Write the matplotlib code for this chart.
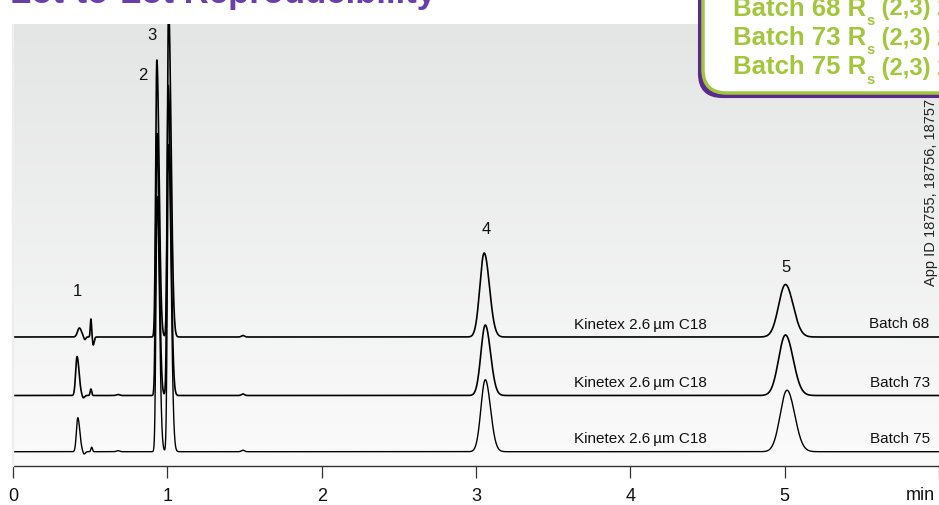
import numpy as np
import matplotlib.pyplot as plt
from matplotlib.patches import FancyBboxPatch
from matplotlib.colors import LinearSegmentedColormap

plt.rcParams['font.family'] = ['Liberation Sans', 'DejaVu Sans']

# ---- chromatogram data -------------------------------------------------
batches = ['Batch 68', 'Batch 73', 'Batch 75']
column_name = 'Kinetex 2.6\u2009µm C18'
trace_offsets = [129, 70.5, 14.3]

# peak tables: retention time (min), height, left / right width (min)
rt_68 = [0.43, 0.465, 0.505, 0.52, 0.932, 1.008, 1.49, 3.053, 5.005]
h_68 = [9, -3, 18, -8, 277, 330, 1.5, 84, 52.5]
sl_68 = [0.012, 0.006, 0.004, 0.004, 0.0075, 0.0075, 0.01, 0.028, 0.044]
sr_68 = [0.014, 0.006, 0.004, 0.006, 0.0145, 0.016, 0.01, 0.034, 0.050]

rt_73 = [0.415, 0.455, 0.505, 0.68, 0.932, 1.006, 1.49, 3.06, 5.005]
h_73 = [39, -2.5, 6.5, 1, 262, 310, 1.5, 70.5, 60.5]
sl_73 = [0.009, 0.006, 0.005, 0.01, 0.0075, 0.0075, 0.01, 0.028, 0.044]
sr_73 = [0.013, 0.008, 0.005, 0.01, 0.0145, 0.016, 0.01, 0.034, 0.050]

rt_75 = [0.42, 0.46, 0.51, 0.68, 0.934, 1.008, 1.49, 3.06, 5.015]
h_75 = [34, -2.5, 4.5, 1, 255, 307, 1.5, 72, 61.5]
sl_75 = [0.009, 0.006, 0.005, 0.01, 0.0075, 0.0075, 0.01, 0.028, 0.044]
sr_75 = [0.013, 0.008, 0.005, 0.01, 0.0145, 0.016, 0.01, 0.034, 0.050]

peak_tables = [(rt_68, h_68, sl_68, sr_68),
               (rt_73, h_73, sl_73, sr_73),
               (rt_75, h_75, sl_75, sr_75)]

# numbered peaks: retention time and label height (signal units)
peak_numbers = ['1', '2', '3', '4', '5']
peak_label_t = [0.42, 0.84, 0.90, 3.068, 5.01]
peak_label_y = [174, 390, 431, 237, 199]

x_ticks = [0, 1, 2, 3, 4, 5, 6]
x_tick_labels = ['0', '1', '2', '3', '4', '5', '']

title = 'Lot-to-Lot Reproducibility'
resolution_pair = '(2,3) 2'

GREEN = '#a2c63c'
PURPLE = '#5a2a8c'

t = np.linspace(0, 6.0, 6000)


def trace(rts, hs, sls, srs):
    y = np.zeros_like(t)
    for r, h, sl, sr in zip(rts, hs, sls, srs):
        s = np.where(t < r, sl, sr)
        y += h * np.exp(-0.5 * ((t - r) / s) ** 2)
    return y


W, H = 939, 505
fig = plt.figure(figsize=(W / 100, H / 100), dpi=100)
ax = fig.add_axes([13 / W, 39 / H, (W - 13) / W, 442 / H])
ax.set_xlim(0, 6.0)
ax.set_ylim(0, 442)

# soft grey gradient behind the traces, darker at the top
grad = np.linspace(0, 1, 256).reshape(-1, 1)
cmap = LinearSegmentedColormap.from_list('bg', ['#e4e5e5', '#fbfbfb'])
ax.imshow(grad, cmap=cmap, aspect='auto', extent=[0, 6.0, 0, 442],
          zorder=0, origin='upper')
fig.patches.append(plt.Rectangle((12 / W, 39 / H), 1 / W, 442 / H,
                                 transform=fig.transFigure,
                                 color='#eeeeee', zorder=0))

for (rts, hs, sls, srs), off, name, lw in zip(peak_tables, trace_offsets,
                                              batches, [1.2, 1.2, 1.0]):
    ax.plot(t, trace(rts, hs, sls, srs) + off, color='black', lw=lw,
            zorder=3, solid_joinstyle='round')
    ax.text(3.633, off + 12.5, column_name, fontsize=11, ha='left',
            va='center', color='#111111', zorder=4)
    ax.text(5.94, off + 12.5, name, fontsize=11, ha='right', va='center',
            color='#111111', zorder=4)

for lab, lt, ly in zip(peak_numbers, peak_label_t, peak_label_y):
    ax.text(lt, ly, lab, fontsize=12, ha='center', va='center',
            color='#111111', zorder=4)

for side in ['left', 'right', 'top']:
    ax.spines[side].set_visible(False)
ax.spines['bottom'].set_color('#333333')
ax.spines['bottom'].set_linewidth(1.0)
ax.set_yticks([])
ax.set_xticks(x_ticks)
ax.set_xticklabels(x_tick_labels)
ax.tick_params(axis='x', direction='out', length=8.5, width=0.9,
               color='#333333', labelsize=13, pad=7, labelcolor='#111111')
ax.text(5.88, -29, 'min', fontsize=13, ha='center', va='center',
        color='#111111', clip_on=False)

# heading running off the top edge
fig.text(10 / W, 1 - 3 / H, title, fontsize=25, fontweight='bold',
         color='#6a3fa8', ha='left', va='baseline')

# results box in the upper right corner
def px(x, y):
    return x / W, 1 - y / H

bx0, by0 = px(703, 93)
shadow = FancyBboxPatch((bx0 - 4 / W, by0 - 4 / H), 300 / W, 160 / H,
                        boxstyle='round,pad=0,rounding_size=0.025',
                        transform=fig.transFigure, facecolor=PURPLE,
                        edgecolor=PURPLE, lw=1.5, zorder=5,
                        mutation_aspect=W / H)
box = FancyBboxPatch((bx0, by0), 300 / W, 160 / H,
                     boxstyle='round,pad=0,rounding_size=0.025',
                     transform=fig.transFigure, facecolor='white',
                     edgecolor=GREEN, lw=2.5, zorder=6,
                     mutation_aspect=W / H)
fig.patches.extend([shadow, box])

box_style = dict(fontweight='bold', color=GREEN, zorder=7,
                 annotation_clip=False)
for i, name in enumerate(batches):
    head = fig.text(733 / W, 1 - (15.5 + 29.5 * i) / H, name + ' R',
                    fontsize=18.5, fontweight='bold', color=GREEN,
                    ha='left', va='baseline', zorder=7)
    sub = fig.add_artist(plt.Annotation(
        's', xy=(1, 0), xycoords=head, xytext=(0.3, -3.2),
        textcoords='offset points', fontsize=10.5, ha='left', va='baseline',
        **box_style))
    fig.add_artist(plt.Annotation(
        ' ' + resolution_pair, xy=(1, 0), xycoords=(sub, head),
        xytext=(0, 0), textcoords='offset points', fontsize=17,
        ha='left', va='bottom', **box_style))

fig.text(931 / W, 1 - 192 / H, 'App ID 18755, 18756, 18757', fontsize=10.5,
         rotation=90, ha='center', va='center', color='#222222', zorder=4)

fig.savefig('out.png', dpi=100)
